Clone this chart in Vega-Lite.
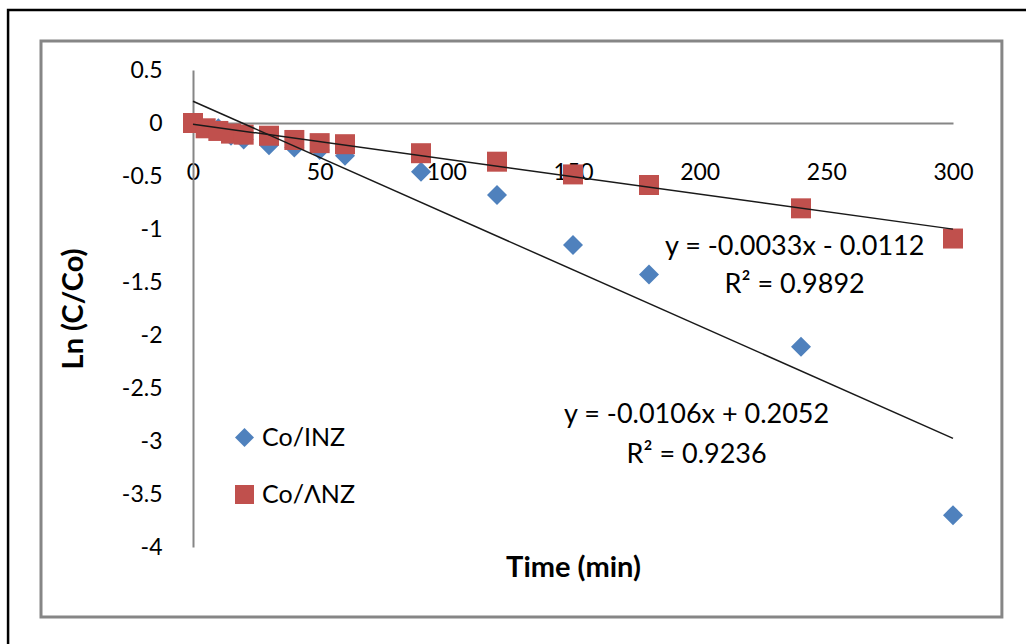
{
  "$schema": "https://vega.github.io/schema/vega-lite/v6.json",
  "width": 760,
  "height": 477,
  "autosize": {"type": "none"},
  "padding": {"left": 193, "top": 70, "right": 73, "bottom": 97},
  "background": "white",
  "config": {
    "view": {"stroke": null},
    "font": "Lato",
    "axis": {"grid": false}
  },
  "datasets": {
    "points": [
      {"series": "Co/INZ", "t": 0, "y": 0},
      {"series": "Co/INZ", "t": 10, "y": -0.05},
      {"series": "Co/INZ", "t": 15, "y": -0.12},
      {"series": "Co/INZ", "t": 20, "y": -0.155},
      {"series": "Co/INZ", "t": 30, "y": -0.21},
      {"series": "Co/INZ", "t": 40, "y": -0.23},
      {"series": "Co/INZ", "t": 50, "y": -0.255},
      {"series": "Co/INZ", "t": 60, "y": -0.31},
      {"series": "Co/INZ", "t": 90, "y": -0.46},
      {"series": "Co/INZ", "t": 120, "y": -0.68},
      {"series": "Co/INZ", "t": 150, "y": -1.15},
      {"series": "Co/INZ", "t": 180, "y": -1.43},
      {"series": "Co/INZ", "t": 240, "y": -2.11},
      {"series": "Co/INZ", "t": 300, "y": -3.7},
      {"series": "Co/ΛNZ", "t": 0, "y": 0},
      {"series": "Co/ΛNZ", "t": 5, "y": -0.05},
      {"series": "Co/ΛNZ", "t": 10, "y": -0.075},
      {"series": "Co/ΛNZ", "t": 15, "y": -0.1},
      {"series": "Co/ΛNZ", "t": 20, "y": -0.11},
      {"series": "Co/ΛNZ", "t": 30, "y": -0.12},
      {"series": "Co/ΛNZ", "t": 40, "y": -0.16},
      {"series": "Co/ΛNZ", "t": 50, "y": -0.19},
      {"series": "Co/ΛNZ", "t": 60, "y": -0.2},
      {"series": "Co/ΛNZ", "t": 90, "y": -0.285},
      {"series": "Co/ΛNZ", "t": 120, "y": -0.365},
      {"series": "Co/ΛNZ", "t": 150, "y": -0.485},
      {"series": "Co/ΛNZ", "t": 180, "y": -0.585},
      {"series": "Co/ΛNZ", "t": 240, "y": -0.805},
      {"series": "Co/ΛNZ", "t": 300, "y": -1.09}
    ],
    "trend": [
      {"series": "Co/INZ", "t": 0, "y": 0.2052},
      {"series": "Co/INZ", "t": 300, "y": -2.9748},
      {"series": "Co/ΛNZ", "t": 0, "y": -0.0112},
      {"series": "Co/ΛNZ", "t": 300, "y": -1.0012}
    ],
    "labels": [
      {"t": 237.5, "y": -1.17, "text": "y = -0.0033x - 0.0112"},
      {"t": 237.5, "y": -1.528, "text": "R² = 0.9892"},
      {"t": 198.8, "y": -2.755, "text": "y = -0.0106x + 0.2052"},
      {"t": 198.8, "y": -3.132, "text": "R² = 0.9236"}
    ]
  },
  "layer": [
    {
      "data": {"name": "points"},
      "mark": {"type": "point", "filled": true, "opacity": 1, "size": 400},
      "encoding": {
        "x": {
          "field": "t", "type": "quantitative",
          "scale": {"domain": [0, 300], "nice": false, "zero": false},
          "axis": {
            "title": "Time (min)",
            "orient": "bottom",
            "offset": -424,
            "values": [0, 50, 100, 150, 200, 250, 300],
            "ticks": false,
            "tickSize": 0,
            "labelFlush": false,
            "labelOverlap": false,
            "labelPadding": 38,
            "labelFontSize": 23,
            "labelColor": "#000000",
            "labelFont": "Lato",
            "domainColor": "#868686",
            "domainWidth": 2,
            "titleFontSize": 29,
            "titleFontWeight": "bold",
            "titleColor": "#000000",
            "titleFont": "Lato",
            "titlePadding": 369
          }
        },
        "y": {
          "field": "y", "type": "quantitative",
          "scale": {"domain": [-4, 0.5], "nice": false, "zero": false},
          "axis": {
            "title": "Ln (C/Co)",
            "values": [0.5, 0, -0.5, -1, -1.5, -2, -2.5, -3, -3.5, -4],
            "labelExpr": "'' + datum.value",
            "ticks": false,
            "tickSize": 0,
            "labelOverlap": false,
            "labelPadding": 31,
            "labelFontSize": 23,
            "labelColor": "#000000",
            "labelFont": "Lato",
            "domainColor": "#868686",
            "domainWidth": 2,
            "titleFontSize": 29,
            "titleFontWeight": "bold",
            "titleColor": "#000000",
            "titleFont": "Lato",
            "titlePadding": 33
          }
        },
        "color": {
          "field": "series", "type": "nominal",
          "scale": {"domain": ["Co/INZ", "Co/ΛNZ"], "range": ["#4F81BD", "#C0504D"]},
          "legend": {
            "title": null,
            "orient": "none",
            "legendX": 39,
            "legendY": 355,
            "padding": 0,
            "symbolSize": 360,
            "symbolOpacity": 1,
            "labelFontSize": 25,
            "labelFont": "Lato",
            "labelColor": "#000000",
            "labelOffset": 5,
            "rowPadding": 31
          }
        },
        "shape": {
          "field": "series", "type": "nominal",
          "scale": {"domain": ["Co/INZ", "Co/ΛNZ"], "range": ["diamond", "square"]},
          "legend": {
            "title": null,
            "orient": "none",
            "legendX": 39,
            "legendY": 355,
            "padding": 0,
            "symbolSize": 360,
            "symbolOpacity": 1,
            "labelFontSize": 25,
            "labelFont": "Lato",
            "labelColor": "#000000",
            "labelOffset": 5,
            "rowPadding": 31
          }
        }
      }
    },
    {
      "data": {"values": [{}]},
      "mark": {"type": "rect", "fill": "transparent", "stroke": "#000000", "strokeWidth": 2.5},
      "encoding": {
        "x": {"datum": -73, "type": "quantitative", "scale": {"domain": [0, 300], "nice": false, "zero": false}},
        "x2": {"datum": 345},
        "y": {"datum": 1.066, "type": "quantitative", "scale": {"domain": [-4, 0.5], "nice": false, "zero": false}},
        "y2": {"datum": -6}
      }
    },
    {
      "data": {"values": [{}]},
      "mark": {"type": "rect", "fill": "transparent", "stroke": "#868686", "strokeWidth": 3},
      "encoding": {
        "x": {"datum": -60, "type": "quantitative", "scale": {"domain": [0, 300], "nice": false, "zero": false}},
        "x2": {"datum": 319.3},
        "y": {"datum": 0.774, "type": "quantitative", "scale": {"domain": [-4, 0.5], "nice": false, "zero": false}},
        "y2": {"datum": -4.66}
      }
    },
    {
      "data": {"name": "trend"},
      "mark": {"type": "line", "color": "#1a1a1a", "strokeWidth": 1.5},
      "encoding": {
        "x": {"field": "t", "type": "quantitative", "scale": {"domain": [0, 300], "nice": false, "zero": false}},
        "y": {"field": "y", "type": "quantitative", "scale": {"domain": [-4, 0.5], "nice": false, "zero": false}},
        "detail": {"field": "series", "type": "nominal"}
      }
    },
    {
      "data": {"name": "labels"},
      "mark": {"type": "text", "font": "Lato", "fontSize": 27, "color": "#000000", "align": "center", "baseline": "middle"},
      "encoding": {
        "x": {"field": "t", "type": "quantitative", "scale": {"domain": [0, 300], "nice": false, "zero": false}},
        "y": {"field": "y", "type": "quantitative", "scale": {"domain": [-4, 0.5], "nice": false, "zero": false}},
        "text": {"field": "text", "type": "nominal"}
      }
    }
  ]
}
